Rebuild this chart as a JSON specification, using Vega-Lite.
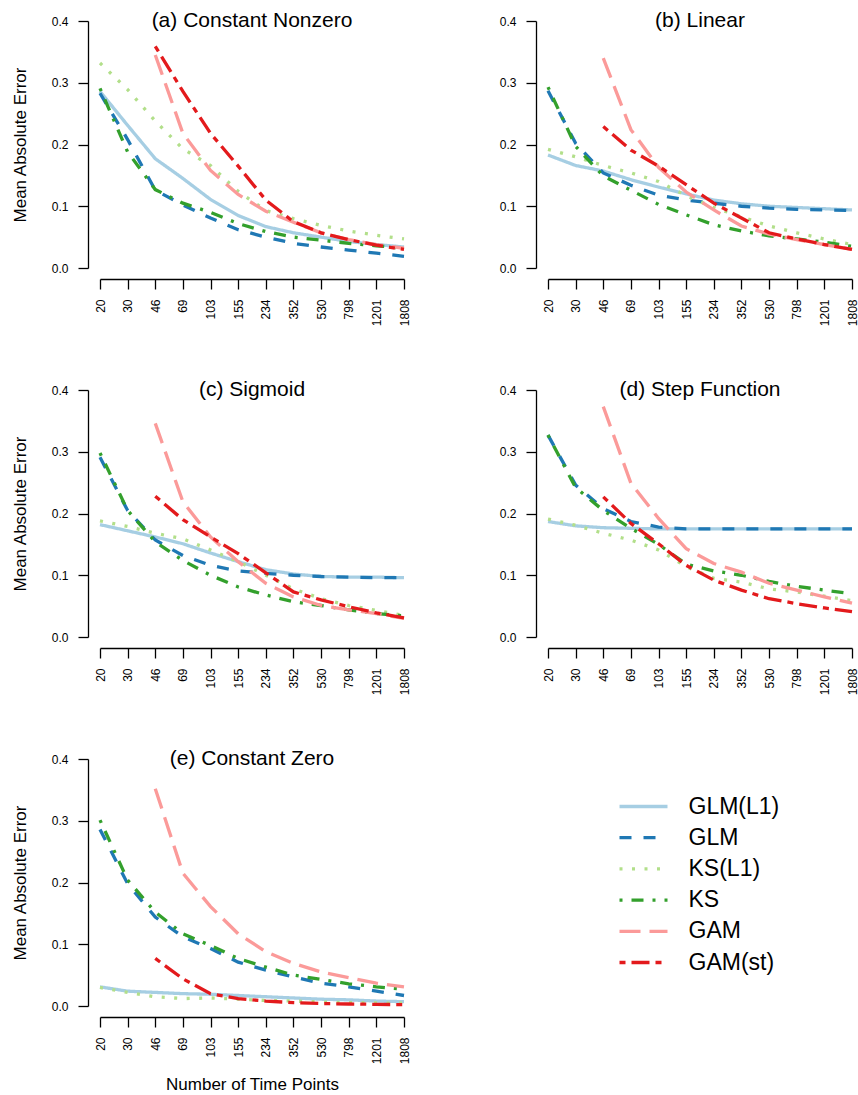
{
"$schema": "https://vega.github.io/schema/vega-lite/v6.json",
"padding": {"left": 11, "top": 10, "right": 0, "bottom": 0},
"background": "white",
"config": {
  "view": {"stroke": null},
  "font": "Liberation Sans",
  "title": {"fontSize": 21, "font": "Liberation Sans", "fontWeight": "normal", "offset": -16, "frame": "group", "anchor": "middle", "color": "black"},
  "axis": {"grid": false, "domainColor": "black", "tickColor": "black", "domainWidth": 1.3, "tickWidth": 1.3, "tickSize": 10, "labelFont": "Liberation Sans", "labelFontSize": 12, "labelColor": "black", "labelPadding": 10, "titleFont": "Liberation Sans", "titleFontSize": 17, "titleFontWeight": "normal", "titleColor": "black"},
  "legend": {"orient": "none", "legendX": 532, "legendY": 774, "labelFont": "Liberation Sans", "labelFontSize": 23, "labelColor": "black", "symbolType": "M-4,0H4", "symbolSize": 144, "symbolStrokeWidth": 3.3, "labelOffset": 33.5, "rowPadding": 7.2}
},
"datasets": {
"d": [
{"panel":"a","method":"GLM(L1)","N":20,"mae":0.286},{"panel":"a","method":"GLM(L1)","N":30,"mae":0.231},{"panel":"a","method":"GLM(L1)","N":46,"mae":0.177},{"panel":"a","method":"GLM(L1)","N":69,"mae":0.145},{"panel":"a","method":"GLM(L1)","N":103,"mae":0.111},{"panel":"a","method":"GLM(L1)","N":155,"mae":0.085},{"panel":"a","method":"GLM(L1)","N":234,"mae":0.067},{"panel":"a","method":"GLM(L1)","N":352,"mae":0.057},{"panel":"a","method":"GLM(L1)","N":530,"mae":0.050},{"panel":"a","method":"GLM(L1)","N":798,"mae":0.043},{"panel":"a","method":"GLM(L1)","N":1201,"mae":0.038},{"panel":"a","method":"GLM(L1)","N":1808,"mae":0.034},
{"panel":"a","method":"GLM","N":20,"mae":0.283},{"panel":"a","method":"GLM","N":30,"mae":0.208},{"panel":"a","method":"GLM","N":46,"mae":0.126},{"panel":"a","method":"GLM","N":69,"mae":0.102},{"panel":"a","method":"GLM","N":103,"mae":0.081},{"panel":"a","method":"GLM","N":155,"mae":0.062},{"panel":"a","method":"GLM","N":234,"mae":0.050},{"panel":"a","method":"GLM","N":352,"mae":0.040},{"panel":"a","method":"GLM","N":530,"mae":0.034},{"panel":"a","method":"GLM","N":798,"mae":0.029},{"panel":"a","method":"GLM","N":1201,"mae":0.024},{"panel":"a","method":"GLM","N":1808,"mae":0.019},
{"panel":"a","method":"KS(L1)","N":20,"mae":0.332},{"panel":"a","method":"KS(L1)","N":30,"mae":0.289},{"panel":"a","method":"KS(L1)","N":46,"mae":0.238},{"panel":"a","method":"KS(L1)","N":69,"mae":0.193},{"panel":"a","method":"KS(L1)","N":103,"mae":0.166},{"panel":"a","method":"KS(L1)","N":155,"mae":0.124},{"panel":"a","method":"KS(L1)","N":234,"mae":0.093},{"panel":"a","method":"KS(L1)","N":352,"mae":0.080},{"panel":"a","method":"KS(L1)","N":530,"mae":0.069},{"panel":"a","method":"KS(L1)","N":798,"mae":0.060},{"panel":"a","method":"KS(L1)","N":1201,"mae":0.053},{"panel":"a","method":"KS(L1)","N":1808,"mae":0.047},
{"panel":"a","method":"KS","N":20,"mae":0.291},{"panel":"a","method":"KS","N":30,"mae":0.188},{"panel":"a","method":"KS","N":46,"mae":0.127},{"panel":"a","method":"KS","N":69,"mae":0.105},{"panel":"a","method":"KS","N":103,"mae":0.090},{"panel":"a","method":"KS","N":155,"mae":0.072},{"panel":"a","method":"KS","N":234,"mae":0.059},{"panel":"a","method":"KS","N":352,"mae":0.050},{"panel":"a","method":"KS","N":530,"mae":0.045},{"panel":"a","method":"KS","N":798,"mae":0.040},{"panel":"a","method":"KS","N":1201,"mae":0.036},{"panel":"a","method":"KS","N":1808,"mae":0.032},
{"panel":"a","method":"GAM","N":46,"mae":0.345},{"panel":"a","method":"GAM","N":69,"mae":0.218},{"panel":"a","method":"GAM","N":103,"mae":0.158},{"panel":"a","method":"GAM","N":155,"mae":0.119},{"panel":"a","method":"GAM","N":234,"mae":0.092},{"panel":"a","method":"GAM","N":352,"mae":0.074},{"panel":"a","method":"GAM","N":530,"mae":0.057},{"panel":"a","method":"GAM","N":798,"mae":0.046},{"panel":"a","method":"GAM","N":1201,"mae":0.038},{"panel":"a","method":"GAM","N":1808,"mae":0.032},
{"panel":"a","method":"GAM(st)","N":46,"mae":0.359},{"panel":"a","method":"GAM(st)","N":69,"mae":0.286},{"panel":"a","method":"GAM(st)","N":103,"mae":0.218},{"panel":"a","method":"GAM(st)","N":155,"mae":0.165},{"panel":"a","method":"GAM(st)","N":234,"mae":0.110},{"panel":"a","method":"GAM(st)","N":352,"mae":0.075},{"panel":"a","method":"GAM(st)","N":530,"mae":0.057},{"panel":"a","method":"GAM(st)","N":798,"mae":0.046},{"panel":"a","method":"GAM(st)","N":1201,"mae":0.037},{"panel":"a","method":"GAM(st)","N":1808,"mae":0.030},

{"panel":"b","method":"GLM(L1)","N":20,"mae":0.183},{"panel":"b","method":"GLM(L1)","N":30,"mae":0.166},{"panel":"b","method":"GLM(L1)","N":46,"mae":0.157},{"panel":"b","method":"GLM(L1)","N":69,"mae":0.143},{"panel":"b","method":"GLM(L1)","N":103,"mae":0.131},{"panel":"b","method":"GLM(L1)","N":155,"mae":0.120},{"panel":"b","method":"GLM(L1)","N":234,"mae":0.110},{"panel":"b","method":"GLM(L1)","N":352,"mae":0.104},{"panel":"b","method":"GLM(L1)","N":530,"mae":0.100},{"panel":"b","method":"GLM(L1)","N":798,"mae":0.098},{"panel":"b","method":"GLM(L1)","N":1201,"mae":0.096},{"panel":"b","method":"GLM(L1)","N":1808,"mae":0.094},
{"panel":"b","method":"GLM","N":20,"mae":0.287},{"panel":"b","method":"GLM","N":30,"mae":0.202},{"panel":"b","method":"GLM","N":46,"mae":0.154},{"panel":"b","method":"GLM","N":69,"mae":0.134},{"panel":"b","method":"GLM","N":103,"mae":0.118},{"panel":"b","method":"GLM","N":155,"mae":0.110},{"panel":"b","method":"GLM","N":234,"mae":0.105},{"panel":"b","method":"GLM","N":352,"mae":0.100},{"panel":"b","method":"GLM","N":530,"mae":0.097},{"panel":"b","method":"GLM","N":798,"mae":0.095},{"panel":"b","method":"GLM","N":1201,"mae":0.094},{"panel":"b","method":"GLM","N":1808,"mae":0.093},
{"panel":"b","method":"KS(L1)","N":20,"mae":0.192},{"panel":"b","method":"KS(L1)","N":30,"mae":0.180},{"panel":"b","method":"KS(L1)","N":46,"mae":0.166},{"panel":"b","method":"KS(L1)","N":69,"mae":0.154},{"panel":"b","method":"KS(L1)","N":103,"mae":0.140},{"panel":"b","method":"KS(L1)","N":155,"mae":0.117},{"panel":"b","method":"KS(L1)","N":234,"mae":0.098},{"panel":"b","method":"KS(L1)","N":352,"mae":0.083},{"panel":"b","method":"KS(L1)","N":530,"mae":0.068},{"panel":"b","method":"KS(L1)","N":798,"mae":0.057},{"panel":"b","method":"KS(L1)","N":1201,"mae":0.047},{"panel":"b","method":"KS(L1)","N":1808,"mae":0.038},
{"panel":"b","method":"KS","N":20,"mae":0.293},{"panel":"b","method":"KS","N":30,"mae":0.197},{"panel":"b","method":"KS","N":46,"mae":0.149},{"panel":"b","method":"KS","N":69,"mae":0.126},{"panel":"b","method":"KS","N":103,"mae":0.103},{"panel":"b","method":"KS","N":155,"mae":0.086},{"panel":"b","method":"KS","N":234,"mae":0.070},{"panel":"b","method":"KS","N":352,"mae":0.060},{"panel":"b","method":"KS","N":530,"mae":0.052},{"panel":"b","method":"KS","N":798,"mae":0.047},{"panel":"b","method":"KS","N":1201,"mae":0.042},{"panel":"b","method":"KS","N":1808,"mae":0.035},
{"panel":"b","method":"GAM","N":46,"mae":0.340},{"panel":"b","method":"GAM","N":69,"mae":0.224},{"panel":"b","method":"GAM","N":103,"mae":0.163},{"panel":"b","method":"GAM","N":155,"mae":0.123},{"panel":"b","method":"GAM","N":234,"mae":0.094},{"panel":"b","method":"GAM","N":352,"mae":0.068},{"panel":"b","method":"GAM","N":530,"mae":0.055},{"panel":"b","method":"GAM","N":798,"mae":0.046},{"panel":"b","method":"GAM","N":1201,"mae":0.038},{"panel":"b","method":"GAM","N":1808,"mae":0.030},
{"panel":"b","method":"GAM(st)","N":46,"mae":0.229},{"panel":"b","method":"GAM(st)","N":69,"mae":0.191},{"panel":"b","method":"GAM(st)","N":103,"mae":0.165},{"panel":"b","method":"GAM(st)","N":155,"mae":0.135},{"panel":"b","method":"GAM(st)","N":234,"mae":0.105},{"panel":"b","method":"GAM(st)","N":352,"mae":0.081},{"panel":"b","method":"GAM(st)","N":530,"mae":0.057},{"panel":"b","method":"GAM(st)","N":798,"mae":0.047},{"panel":"b","method":"GAM(st)","N":1201,"mae":0.038},{"panel":"b","method":"GAM(st)","N":1808,"mae":0.030},

{"panel":"c","method":"GLM(L1)","N":20,"mae":0.182},{"panel":"c","method":"GLM(L1)","N":30,"mae":0.172},{"panel":"c","method":"GLM(L1)","N":46,"mae":0.162},{"panel":"c","method":"GLM(L1)","N":69,"mae":0.151},{"panel":"c","method":"GLM(L1)","N":103,"mae":0.136},{"panel":"c","method":"GLM(L1)","N":155,"mae":0.122},{"panel":"c","method":"GLM(L1)","N":234,"mae":0.109},{"panel":"c","method":"GLM(L1)","N":352,"mae":0.102},{"panel":"c","method":"GLM(L1)","N":530,"mae":0.098},{"panel":"c","method":"GLM(L1)","N":798,"mae":0.097},{"panel":"c","method":"GLM(L1)","N":1201,"mae":0.097},{"panel":"c","method":"GLM(L1)","N":1808,"mae":0.096},
{"panel":"c","method":"GLM","N":20,"mae":0.291},{"panel":"c","method":"GLM","N":30,"mae":0.205},{"panel":"c","method":"GLM","N":46,"mae":0.157},{"panel":"c","method":"GLM","N":69,"mae":0.132},{"panel":"c","method":"GLM","N":103,"mae":0.116},{"panel":"c","method":"GLM","N":155,"mae":0.107},{"panel":"c","method":"GLM","N":234,"mae":0.103},{"panel":"c","method":"GLM","N":352,"mae":0.100},{"panel":"c","method":"GLM","N":530,"mae":0.098},{"panel":"c","method":"GLM","N":798,"mae":0.097},{"panel":"c","method":"GLM","N":1201,"mae":0.096},{"panel":"c","method":"GLM","N":1808,"mae":0.096},
{"panel":"c","method":"KS(L1)","N":20,"mae":0.188},{"panel":"c","method":"KS(L1)","N":30,"mae":0.179},{"panel":"c","method":"KS(L1)","N":46,"mae":0.168},{"panel":"c","method":"KS(L1)","N":69,"mae":0.159},{"panel":"c","method":"KS(L1)","N":103,"mae":0.141},{"panel":"c","method":"KS(L1)","N":155,"mae":0.122},{"panel":"c","method":"KS(L1)","N":234,"mae":0.100},{"panel":"c","method":"KS(L1)","N":352,"mae":0.078},{"panel":"c","method":"KS(L1)","N":530,"mae":0.062},{"panel":"c","method":"KS(L1)","N":798,"mae":0.051},{"panel":"c","method":"KS(L1)","N":1201,"mae":0.043},{"panel":"c","method":"KS(L1)","N":1808,"mae":0.035},
{"panel":"c","method":"KS","N":20,"mae":0.298},{"panel":"c","method":"KS","N":30,"mae":0.205},{"panel":"c","method":"KS","N":46,"mae":0.154},{"panel":"c","method":"KS","N":69,"mae":0.124},{"panel":"c","method":"KS","N":103,"mae":0.100},{"panel":"c","method":"KS","N":155,"mae":0.081},{"panel":"c","method":"KS","N":234,"mae":0.068},{"panel":"c","method":"KS","N":352,"mae":0.057},{"panel":"c","method":"KS","N":530,"mae":0.051},{"panel":"c","method":"KS","N":798,"mae":0.044},{"panel":"c","method":"KS","N":1201,"mae":0.038},{"panel":"c","method":"KS","N":1808,"mae":0.034},
{"panel":"c","method":"GAM","N":46,"mae":0.346},{"panel":"c","method":"GAM","N":69,"mae":0.219},{"panel":"c","method":"GAM","N":103,"mae":0.162},{"panel":"c","method":"GAM","N":155,"mae":0.122},{"panel":"c","method":"GAM","N":234,"mae":0.087},{"panel":"c","method":"GAM","N":352,"mae":0.065},{"panel":"c","method":"GAM","N":530,"mae":0.051},{"panel":"c","method":"GAM","N":798,"mae":0.044},{"panel":"c","method":"GAM","N":1201,"mae":0.038},{"panel":"c","method":"GAM","N":1808,"mae":0.030},
{"panel":"c","method":"GAM(st)","N":46,"mae":0.228},{"panel":"c","method":"GAM(st)","N":69,"mae":0.190},{"panel":"c","method":"GAM(st)","N":103,"mae":0.162},{"panel":"c","method":"GAM(st)","N":155,"mae":0.135},{"panel":"c","method":"GAM(st)","N":234,"mae":0.104},{"panel":"c","method":"GAM(st)","N":352,"mae":0.073},{"panel":"c","method":"GAM(st)","N":530,"mae":0.060},{"panel":"c","method":"GAM(st)","N":798,"mae":0.049},{"panel":"c","method":"GAM(st)","N":1201,"mae":0.039},{"panel":"c","method":"GAM(st)","N":1808,"mae":0.031},

{"panel":"d","method":"GLM(L1)","N":20,"mae":0.187},{"panel":"d","method":"GLM(L1)","N":30,"mae":0.180},{"panel":"d","method":"GLM(L1)","N":46,"mae":0.177},{"panel":"d","method":"GLM(L1)","N":69,"mae":0.176},{"panel":"d","method":"GLM(L1)","N":103,"mae":0.175},{"panel":"d","method":"GLM(L1)","N":155,"mae":0.175},{"panel":"d","method":"GLM(L1)","N":234,"mae":0.175},{"panel":"d","method":"GLM(L1)","N":352,"mae":0.175},{"panel":"d","method":"GLM(L1)","N":530,"mae":0.175},{"panel":"d","method":"GLM(L1)","N":798,"mae":0.175},{"panel":"d","method":"GLM(L1)","N":1201,"mae":0.175},{"panel":"d","method":"GLM(L1)","N":1808,"mae":0.175},
{"panel":"d","method":"GLM","N":20,"mae":0.327},{"panel":"d","method":"GLM","N":30,"mae":0.246},{"panel":"d","method":"GLM","N":46,"mae":0.208},{"panel":"d","method":"GLM","N":69,"mae":0.187},{"panel":"d","method":"GLM","N":103,"mae":0.178},{"panel":"d","method":"GLM","N":155,"mae":0.175},{"panel":"d","method":"GLM","N":234,"mae":0.175},{"panel":"d","method":"GLM","N":352,"mae":0.175},{"panel":"d","method":"GLM","N":530,"mae":0.175},{"panel":"d","method":"GLM","N":798,"mae":0.175},{"panel":"d","method":"GLM","N":1201,"mae":0.175},{"panel":"d","method":"GLM","N":1808,"mae":0.175},
{"panel":"d","method":"KS(L1)","N":20,"mae":0.191},{"panel":"d","method":"KS(L1)","N":30,"mae":0.181},{"panel":"d","method":"KS(L1)","N":46,"mae":0.168},{"panel":"d","method":"KS(L1)","N":69,"mae":0.157},{"panel":"d","method":"KS(L1)","N":103,"mae":0.141},{"panel":"d","method":"KS(L1)","N":155,"mae":0.114},{"panel":"d","method":"KS(L1)","N":234,"mae":0.095},{"panel":"d","method":"KS(L1)","N":352,"mae":0.089},{"panel":"d","method":"KS(L1)","N":530,"mae":0.078},{"panel":"d","method":"KS(L1)","N":798,"mae":0.073},{"panel":"d","method":"KS(L1)","N":1201,"mae":0.066},{"panel":"d","method":"KS(L1)","N":1808,"mae":0.059},
{"panel":"d","method":"KS","N":20,"mae":0.327},{"panel":"d","method":"KS","N":30,"mae":0.242},{"panel":"d","method":"KS","N":46,"mae":0.205},{"panel":"d","method":"KS","N":69,"mae":0.176},{"panel":"d","method":"KS","N":103,"mae":0.150},{"panel":"d","method":"KS","N":155,"mae":0.118},{"panel":"d","method":"KS","N":234,"mae":0.107},{"panel":"d","method":"KS","N":352,"mae":0.100},{"panel":"d","method":"KS","N":530,"mae":0.090},{"panel":"d","method":"KS","N":798,"mae":0.082},{"panel":"d","method":"KS","N":1201,"mae":0.076},{"panel":"d","method":"KS","N":1808,"mae":0.070},
{"panel":"d","method":"GAM","N":46,"mae":0.373},{"panel":"d","method":"GAM","N":69,"mae":0.249},{"panel":"d","method":"GAM","N":103,"mae":0.192},{"panel":"d","method":"GAM","N":155,"mae":0.143},{"panel":"d","method":"GAM","N":234,"mae":0.119},{"panel":"d","method":"GAM","N":352,"mae":0.105},{"panel":"d","method":"GAM","N":530,"mae":0.087},{"panel":"d","method":"GAM","N":798,"mae":0.076},{"panel":"d","method":"GAM","N":1201,"mae":0.065},{"panel":"d","method":"GAM","N":1808,"mae":0.055},
{"panel":"d","method":"GAM(st)","N":46,"mae":0.227},{"panel":"d","method":"GAM(st)","N":69,"mae":0.184},{"panel":"d","method":"GAM(st)","N":103,"mae":0.151},{"panel":"d","method":"GAM(st)","N":155,"mae":0.116},{"panel":"d","method":"GAM(st)","N":234,"mae":0.092},{"panel":"d","method":"GAM(st)","N":352,"mae":0.076},{"panel":"d","method":"GAM(st)","N":530,"mae":0.062},{"panel":"d","method":"GAM(st)","N":798,"mae":0.054},{"panel":"d","method":"GAM(st)","N":1201,"mae":0.047},{"panel":"d","method":"GAM(st)","N":1808,"mae":0.041},

{"panel":"e","method":"GLM(L1)","N":20,"mae":0.031},{"panel":"e","method":"GLM(L1)","N":30,"mae":0.024},{"panel":"e","method":"GLM(L1)","N":46,"mae":0.022},{"panel":"e","method":"GLM(L1)","N":69,"mae":0.020},{"panel":"e","method":"GLM(L1)","N":103,"mae":0.019},{"panel":"e","method":"GLM(L1)","N":155,"mae":0.017},{"panel":"e","method":"GLM(L1)","N":234,"mae":0.015},{"panel":"e","method":"GLM(L1)","N":352,"mae":0.013},{"panel":"e","method":"GLM(L1)","N":530,"mae":0.011},{"panel":"e","method":"GLM(L1)","N":798,"mae":0.010},{"panel":"e","method":"GLM(L1)","N":1201,"mae":0.008},{"panel":"e","method":"GLM(L1)","N":1808,"mae":0.007},
{"panel":"e","method":"GLM","N":20,"mae":0.286},{"panel":"e","method":"GLM","N":30,"mae":0.198},{"panel":"e","method":"GLM","N":46,"mae":0.144},{"panel":"e","method":"GLM","N":69,"mae":0.112},{"panel":"e","method":"GLM","N":103,"mae":0.093},{"panel":"e","method":"GLM","N":155,"mae":0.071},{"panel":"e","method":"GLM","N":234,"mae":0.058},{"panel":"e","method":"GLM","N":352,"mae":0.047},{"panel":"e","method":"GLM","N":530,"mae":0.037},{"panel":"e","method":"GLM","N":798,"mae":0.031},{"panel":"e","method":"GLM","N":1201,"mae":0.024},{"panel":"e","method":"GLM","N":1808,"mae":0.017},
{"panel":"e","method":"KS(L1)","N":20,"mae":0.030},{"panel":"e","method":"KS(L1)","N":30,"mae":0.022},{"panel":"e","method":"KS(L1)","N":46,"mae":0.015},{"panel":"e","method":"KS(L1)","N":69,"mae":0.012},{"panel":"e","method":"KS(L1)","N":103,"mae":0.013},{"panel":"e","method":"KS(L1)","N":155,"mae":0.011},{"panel":"e","method":"KS(L1)","N":234,"mae":0.009},{"panel":"e","method":"KS(L1)","N":352,"mae":0.008},{"panel":"e","method":"KS(L1)","N":530,"mae":0.0065},{"panel":"e","method":"KS(L1)","N":798,"mae":0.0055},{"panel":"e","method":"KS(L1)","N":1201,"mae":0.005},{"panel":"e","method":"KS(L1)","N":1808,"mae":0.0045},
{"panel":"e","method":"KS","N":20,"mae":0.301},{"panel":"e","method":"KS","N":30,"mae":0.204},{"panel":"e","method":"KS","N":46,"mae":0.152},{"panel":"e","method":"KS","N":69,"mae":0.117},{"panel":"e","method":"KS","N":103,"mae":0.098},{"panel":"e","method":"KS","N":155,"mae":0.077},{"panel":"e","method":"KS","N":234,"mae":0.063},{"panel":"e","method":"KS","N":352,"mae":0.050},{"panel":"e","method":"KS","N":530,"mae":0.043},{"panel":"e","method":"KS","N":798,"mae":0.036},{"panel":"e","method":"KS","N":1201,"mae":0.031},{"panel":"e","method":"KS","N":1808,"mae":0.027},
{"panel":"e","method":"GAM","N":46,"mae":0.352},{"panel":"e","method":"GAM","N":69,"mae":0.215},{"panel":"e","method":"GAM","N":103,"mae":0.161},{"panel":"e","method":"GAM","N":155,"mae":0.117},{"panel":"e","method":"GAM","N":234,"mae":0.088},{"panel":"e","method":"GAM","N":352,"mae":0.069},{"panel":"e","method":"GAM","N":530,"mae":0.055},{"panel":"e","method":"GAM","N":798,"mae":0.046},{"panel":"e","method":"GAM","N":1201,"mae":0.037},{"panel":"e","method":"GAM","N":1808,"mae":0.031},
{"panel":"e","method":"GAM(st)","N":46,"mae":0.077},{"panel":"e","method":"GAM(st)","N":69,"mae":0.044},{"panel":"e","method":"GAM(st)","N":103,"mae":0.020},{"panel":"e","method":"GAM(st)","N":155,"mae":0.012},{"panel":"e","method":"GAM(st)","N":234,"mae":0.008},{"panel":"e","method":"GAM(st)","N":352,"mae":0.0055},{"panel":"e","method":"GAM(st)","N":530,"mae":0.004},{"panel":"e","method":"GAM(st)","N":798,"mae":0.0032},{"panel":"e","method":"GAM(st)","N":1201,"mae":0.0027},{"panel":"e","method":"GAM(st)","N":1808,"mae":0.0022}
]
},
"columns": 2,
"bounds": "flush",
"spacing": {"row": 122, "column": 144},
"concat": [
{
 "width": 304, "height": 247,
 "title": {"text": "(a) Constant Nonzero"},
 "data": {"name": "d"},
 "transform": [{"filter": "datum.panel == 'a'"}],
 "mark": {"type": "line", "strokeWidth": 3.3, "strokeCap": "butt"},
 "encoding": {
  "x": {"field": "N", "type": "ordinal", "scale": {"type": "point", "domain": [20,30,46,69,103,155,234,352,530,798,1201,1808], "padding": 0}, "axis": {"title": null, "labelAngle": 270, "offset": 11}},
  "y": {"field": "mae", "type": "quantitative", "scale": {"domain": [0, 0.4], "nice": false, "zero": false}, "axis": {"title": "Mean Absolute Error", "values": [0, 0.1, 0.2, 0.3, 0.4], "format": ".1f", "offset": 12, "titlePadding": 22}},
  "color": {"field": "method", "type": "nominal", "scale": {"domain": ["GLM(L1)", "GLM", "KS(L1)", "KS", "GAM", "GAM(st)"], "range": ["#a6cee3", "#1f78b4", "#b2df8a", "#33a02c", "#fb9a99", "#e31a1c"]}, "legend": {"title": null}},
  "strokeDash": {"field": "method", "type": "nominal", "scale": {"domain": ["GLM(L1)", "GLM", "KS(L1)", "KS", "GAM", "GAM(st)"], "range": [[1, 0], [12, 12], [3, 9.5], [3, 9, 12, 9], [21, 9], [6, 6, 18, 6]]}, "legend": {"title": null}}
 }
},
{
 "width": 304, "height": 247,
 "title": {"text": "(b) Linear"},
 "data": {"name": "d"},
 "transform": [{"filter": "datum.panel == 'b'"}],
 "mark": {"type": "line", "strokeWidth": 3.3, "strokeCap": "butt"},
 "encoding": {
  "x": {"field": "N", "type": "ordinal", "scale": {"type": "point", "domain": [20,30,46,69,103,155,234,352,530,798,1201,1808], "padding": 0}, "axis": {"title": null, "labelAngle": 270, "offset": 11}},
  "y": {"field": "mae", "type": "quantitative", "scale": {"domain": [0, 0.4], "nice": false, "zero": false}, "axis": {"title": null, "values": [0, 0.1, 0.2, 0.3, 0.4], "format": ".1f", "offset": 12}},
  "color": {"field": "method", "type": "nominal", "scale": {"domain": ["GLM(L1)", "GLM", "KS(L1)", "KS", "GAM", "GAM(st)"], "range": ["#a6cee3", "#1f78b4", "#b2df8a", "#33a02c", "#fb9a99", "#e31a1c"]}, "legend": {"title": null}},
  "strokeDash": {"field": "method", "type": "nominal", "scale": {"domain": ["GLM(L1)", "GLM", "KS(L1)", "KS", "GAM", "GAM(st)"], "range": [[1, 0], [12, 12], [3, 9.5], [3, 9, 12, 9], [21, 9], [6, 6, 18, 6]]}, "legend": {"title": null}}
 }
},
{
 "width": 304, "height": 247,
 "title": {"text": "(c) Sigmoid"},
 "data": {"name": "d"},
 "transform": [{"filter": "datum.panel == 'c'"}],
 "mark": {"type": "line", "strokeWidth": 3.3, "strokeCap": "butt"},
 "encoding": {
  "x": {"field": "N", "type": "ordinal", "scale": {"type": "point", "domain": [20,30,46,69,103,155,234,352,530,798,1201,1808], "padding": 0}, "axis": {"title": null, "labelAngle": 270, "offset": 11}},
  "y": {"field": "mae", "type": "quantitative", "scale": {"domain": [0, 0.4], "nice": false, "zero": false}, "axis": {"title": "Mean Absolute Error", "values": [0, 0.1, 0.2, 0.3, 0.4], "format": ".1f", "offset": 12, "titlePadding": 22}},
  "color": {"field": "method", "type": "nominal", "scale": {"domain": ["GLM(L1)", "GLM", "KS(L1)", "KS", "GAM", "GAM(st)"], "range": ["#a6cee3", "#1f78b4", "#b2df8a", "#33a02c", "#fb9a99", "#e31a1c"]}, "legend": {"title": null}},
  "strokeDash": {"field": "method", "type": "nominal", "scale": {"domain": ["GLM(L1)", "GLM", "KS(L1)", "KS", "GAM", "GAM(st)"], "range": [[1, 0], [12, 12], [3, 9.5], [3, 9, 12, 9], [21, 9], [6, 6, 18, 6]]}, "legend": {"title": null}}
 }
},
{
 "width": 304, "height": 247,
 "title": {"text": "(d) Step Function"},
 "data": {"name": "d"},
 "transform": [{"filter": "datum.panel == 'd'"}],
 "mark": {"type": "line", "strokeWidth": 3.3, "strokeCap": "butt"},
 "encoding": {
  "x": {"field": "N", "type": "ordinal", "scale": {"type": "point", "domain": [20,30,46,69,103,155,234,352,530,798,1201,1808], "padding": 0}, "axis": {"title": null, "labelAngle": 270, "offset": 11}},
  "y": {"field": "mae", "type": "quantitative", "scale": {"domain": [0, 0.4], "nice": false, "zero": false}, "axis": {"title": null, "values": [0, 0.1, 0.2, 0.3, 0.4], "format": ".1f", "offset": 12}},
  "color": {"field": "method", "type": "nominal", "scale": {"domain": ["GLM(L1)", "GLM", "KS(L1)", "KS", "GAM", "GAM(st)"], "range": ["#a6cee3", "#1f78b4", "#b2df8a", "#33a02c", "#fb9a99", "#e31a1c"]}, "legend": {"title": null}},
  "strokeDash": {"field": "method", "type": "nominal", "scale": {"domain": ["GLM(L1)", "GLM", "KS(L1)", "KS", "GAM", "GAM(st)"], "range": [[1, 0], [12, 12], [3, 9.5], [3, 9, 12, 9], [21, 9], [6, 6, 18, 6]]}, "legend": {"title": null}}
 }
},
{
 "width": 304, "height": 247,
 "title": {"text": "(e) Constant Zero"},
 "data": {"name": "d"},
 "transform": [{"filter": "datum.panel == 'e'"}],
 "mark": {"type": "line", "strokeWidth": 3.3, "strokeCap": "butt"},
 "encoding": {
  "x": {"field": "N", "type": "ordinal", "scale": {"type": "point", "domain": [20,30,46,69,103,155,234,352,530,798,1201,1808], "padding": 0}, "axis": {"title": "Number of Time Points", "labelAngle": 270, "offset": 11, "titlePadding": 13}},
  "y": {"field": "mae", "type": "quantitative", "scale": {"domain": [0, 0.4], "nice": false, "zero": false}, "axis": {"title": "Mean Absolute Error", "values": [0, 0.1, 0.2, 0.3, 0.4], "format": ".1f", "offset": 12, "titlePadding": 22}},
  "color": {"field": "method", "type": "nominal", "scale": {"domain": ["GLM(L1)", "GLM", "KS(L1)", "KS", "GAM", "GAM(st)"], "range": ["#a6cee3", "#1f78b4", "#b2df8a", "#33a02c", "#fb9a99", "#e31a1c"]}, "legend": {"title": null}},
  "strokeDash": {"field": "method", "type": "nominal", "scale": {"domain": ["GLM(L1)", "GLM", "KS(L1)", "KS", "GAM", "GAM(st)"], "range": [[1, 0], [12, 12], [3, 9.5], [3, 9, 12, 9], [21, 9], [6, 6, 18, 6]]}, "legend": {"title": null}}
 }
}
]
}
